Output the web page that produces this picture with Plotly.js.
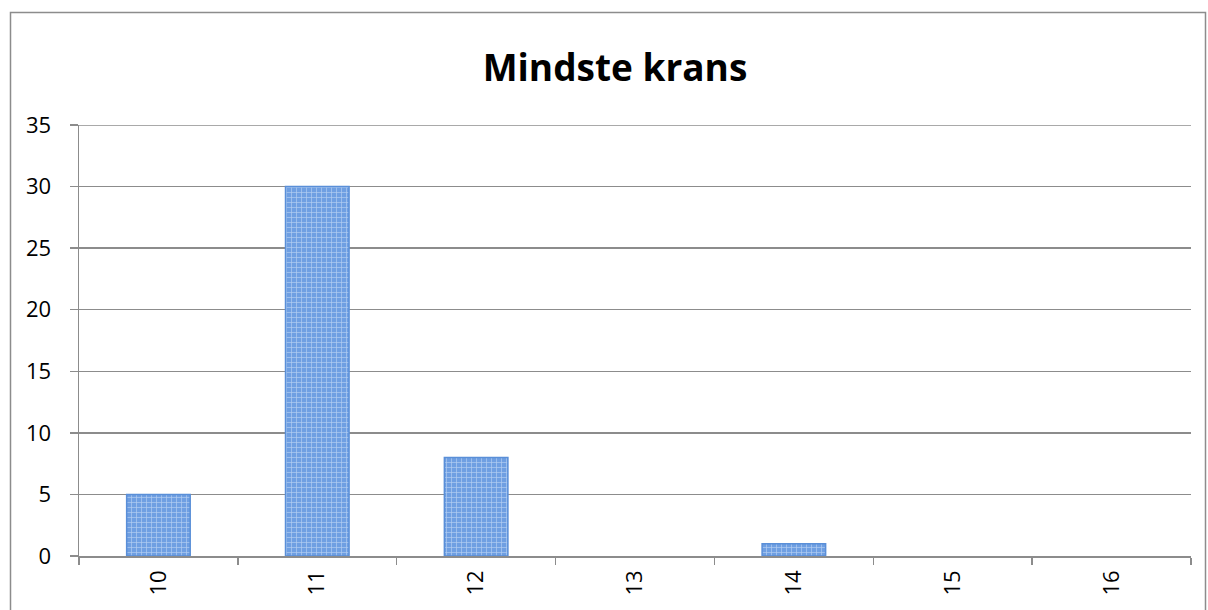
<!DOCTYPE html>
<html><head><meta charset="utf-8">
<script src="https://cdn.plot.ly/plotly-3.0.1.min.js"></script>
<style>body{margin:0;padding:0;background:#fff}#c{width:1208px;height:610px}</style>
</head><body><div id="c"></div>
<script>
var categories = ['10','11','12','13','14','15','16'];
var counts = [5, 30, 8, 0, 1, 0, 0];
var yTicks = [0,5,10,15,20,25,30,35];
var chartTitle = 'Mindste krans';

var trace = {
  type: 'bar', x: categories, y: counts,
  marker: {
    color: '#6f9fe2',
    line: {color: '#5a8fd8', width: counts.map(function(v){ return v > 0 ? 1.5 : 0; })},
    pattern: {shape: '+', fgcolor: '#b3cdf2', bgcolor: '#6f9fe2', size: 5, solidity: 0.25}
  },
  hoverinfo: 'none'
};
var gray = '#8c8c8c';
var yMax = yTicks[yTicks.length - 1];
var layout = {
  width: 1208, height: 610,
  margin: {l: 79, r: 17, t: 125, b: 54},
  paper_bgcolor: '#fff', plot_bgcolor: '#fff',
  showlegend: false,
  bargap: 0.6,
  title: {text: '<b>' + chartTitle + '</b>', font: {family: '"Open Sans", sans-serif', size: 37, color: '#000'},
          x: 615/1208, xanchor: 'center', y: 1 - 68/610, yanchor: 'middle', yref: 'container'},
  font: {family: '"Open Sans", sans-serif', size: 22, color: '#000'},
  xaxis: {type: 'category', tickson: 'boundaries', ticks: 'outside', ticklen: 7, tickcolor: gray, tickwidth: 1.5,
          showline: true, linecolor: gray, linewidth: 1.5, showgrid: false, tickangle: -90, zeroline: false,
          ticklabelstandoff: 4, fixedrange: true},
  yaxis: {range: [0, yMax], tickvals: yTicks, ticks: 'outside', ticklen: 8, tickcolor: gray, tickwidth: 1.5,
          showline: true, linecolor: gray, linewidth: 1.5, gridcolor: gray, gridwidth: 1.5, zeroline: false,
          ticklabelstandoff: 14, fixedrange: true},
  shapes: [
    {type: 'rect', xref: 'paper', yref: 'paper',
     x0: (10.5-79)/1112, x1: (1205.5-79)/1112, y0: (556-625)/431, y1: (556-12.5)/431,
     line: {color: gray, width: 1.5}, fillcolor: 'rgba(0,0,0,0)', layer: 'below'},
    {type: 'line', xref: 'paper', yref: 'y', x0: 0, x1: 1, y0: yMax, y1: yMax,
     line: {color: gray, width: 1.5}, layer: 'below'}
  ]
};
Plotly.newPlot('c', [trace], layout, {staticPlot: true});
</script></body></html>
